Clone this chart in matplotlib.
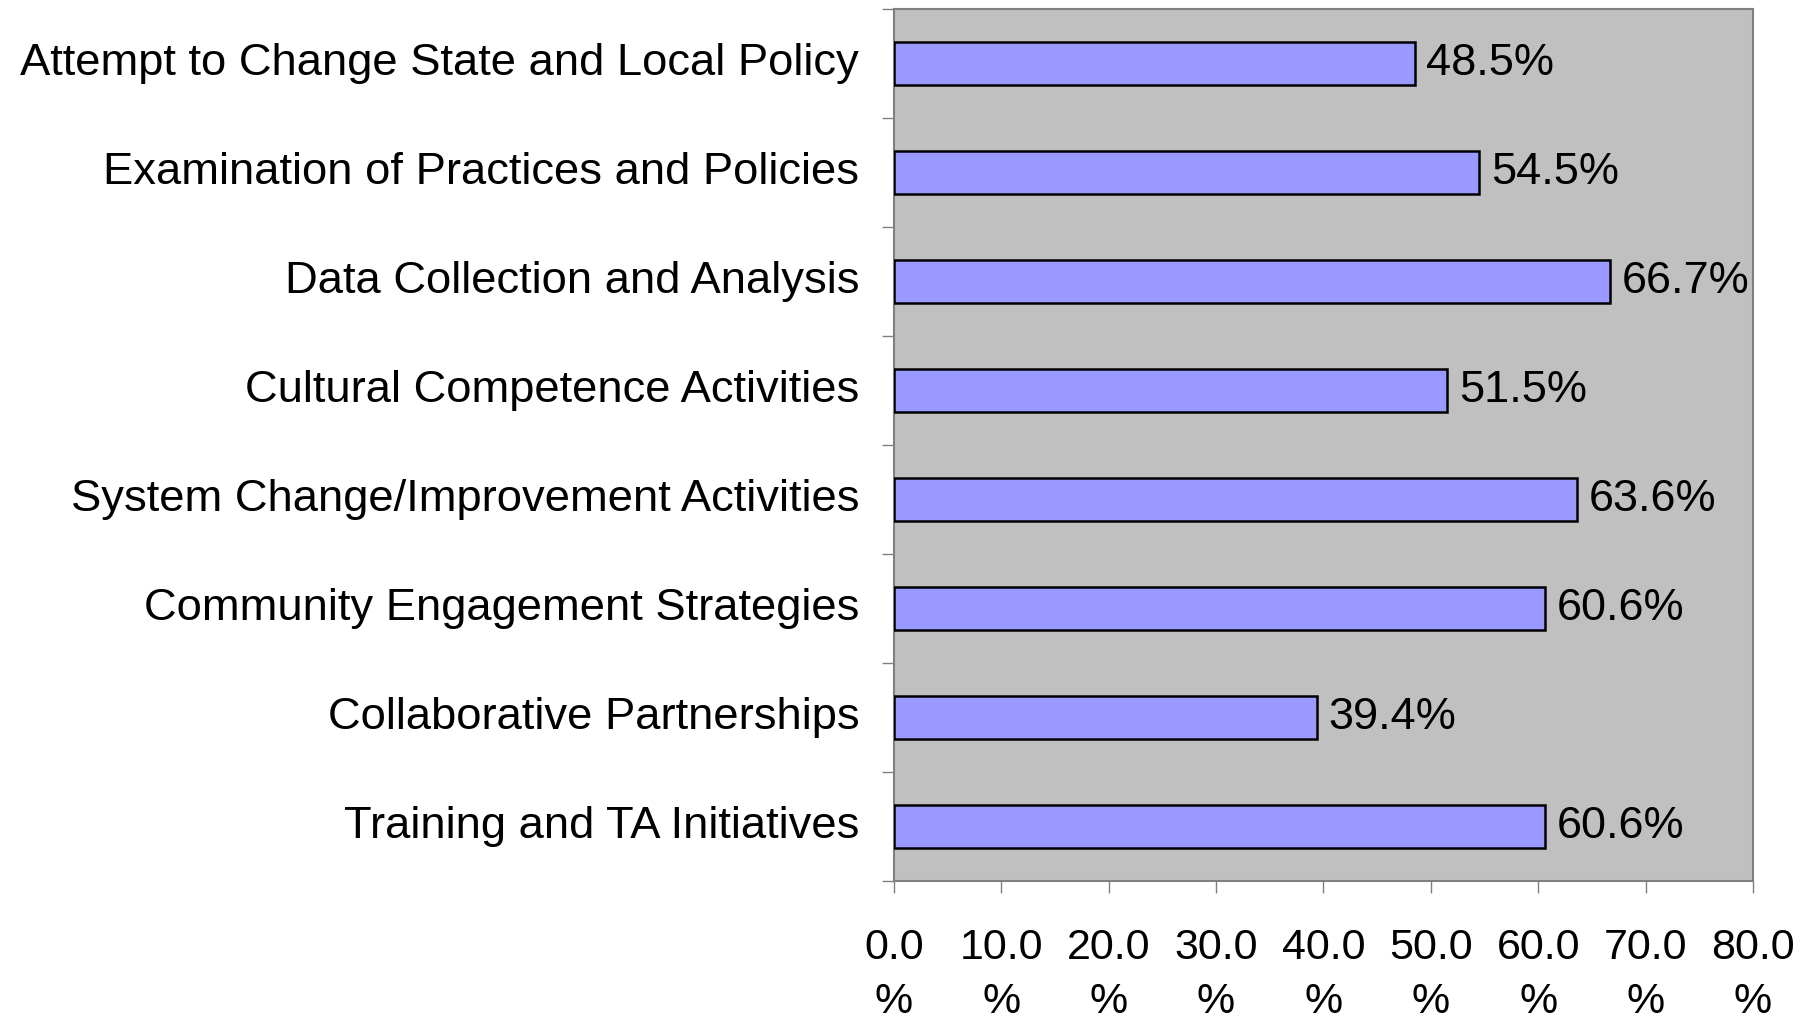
import numpy as np
import matplotlib.pyplot as plt
from matplotlib.transforms import ScaledTranslation

# categories listed top to bottom as in the chart
categories = ['Attempt to Change State and Local Policy',
              'Examination of Practices and Policies',
              'Data Collection and Analysis',
              'Cultural Competence Activities',
              'System Change/Improvement Activities',
              'Community Engagement Strategies',
              'Collaborative Partnerships',
              'Training and TA Initiatives']
values = [48.5, 54.5, 66.7, 51.5, 63.6, 60.6, 39.4, 60.6]
xticks = [0, 10, 20, 30, 40, 50, 60, 70, 80]
xtick_labels = ['%.1f\n%%' % t for t in xticks]

plt.rcParams['font.family'] = ['Liberation Sans', 'DejaVu Sans']

fig = plt.figure(figsize=(18.18, 10.19), dpi=100)
ax = fig.add_axes([0.4917, 0.1354, 0.4725, 0.8556])
ax.set_facecolor('#C0C0C0')

y = np.arange(len(categories))[::-1]
ax.barh(y, values, height=0.4, color='#9999FF', edgecolor='black', linewidth=1.8, zorder=3)

for yi, v in zip(y, values):
    ax.text(v + 1.1, yi, '%.1f%%' % v, va='center', ha='left', fontsize=32.5)

ax.set_xlim(0, 80)
ax.set_ylim(-0.5, len(categories) - 0.5)

ax.set_yticks(y)
ax.set_yticklabels(categories, fontsize=32.7)
ax.set_yticks(np.arange(-0.5, len(categories), 1.0), minor=True)
ax.tick_params(axis='y', which='major', length=0, pad=25)
ax.tick_params(axis='y', which='minor', length=8.5, width=1, color='#808080', direction='out')

# nudge category labels up a little to line up with the bars
shift = ScaledTranslation(0, 3 / 72, fig.dpi_scale_trans)
for lab in ax.get_yticklabels():
    lab.set_transform(lab.get_transform() + shift)

ax.set_xticks(xticks)
ax.set_xticklabels(xtick_labels, fontsize=31, linespacing=1.45)
ax.tick_params(axis='x', length=8.5, width=1, color='#808080', direction='out', pad=25)

for s in ax.spines.values():
    s.set_color('#808080')
    s.set_linewidth(1.5)

fig.savefig('out.png', dpi=100)
